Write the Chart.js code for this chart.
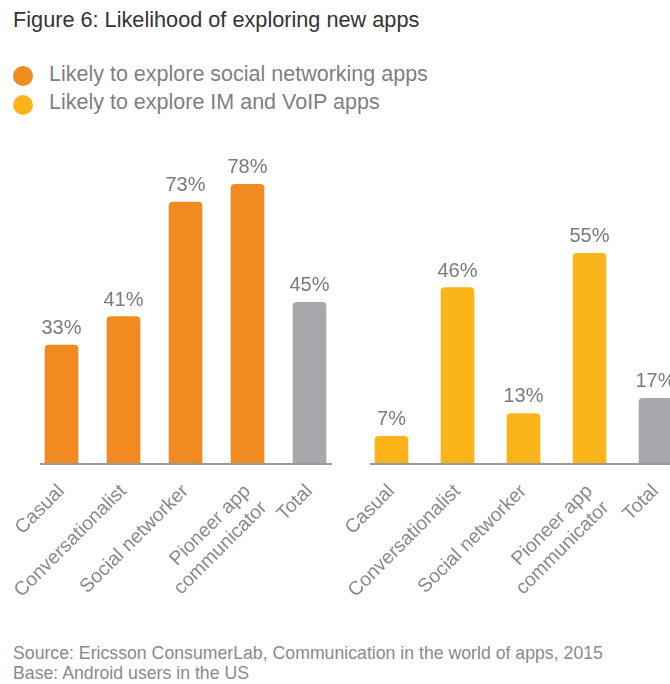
<!DOCTYPE html>
<html>
<head>
<meta charset="utf-8">
<script src="https://cdn.jsdelivr.net/npm/chart.js@4.4.1/dist/chart.umd.min.js"></script>
<style>
  html, body { margin: 0; padding: 0; background: #fff; }
  body { width: 670px; height: 684px; position: relative; overflow: hidden; font-family: "Liberation Sans", Arial, sans-serif; }
  .txt { position: absolute; white-space: nowrap; }
  #title { left: 13px; top: 8.6px; font-size: 21.7px; line-height: 21.7px; color: #333; }
  .legend { left: 49px; font-size: 21.5px; line-height: 21.5px; color: #7f7f7f; }
  .dot { position: absolute; width: 20px; height: 20px; border-radius: 50%; left: 13px; }
  .foot { left: 13px; font-size: 17.7px; line-height: 17.7px; color: #8a8a8a; }
  #leftWrap { position: absolute; left: 0; top: 0; width: 370px; height: 603px; }
  #rightWrap { position: absolute; left: 320px; top: 0; width: 385px; height: 603px; }
</style>
</head>
<body>
<div id="title" class="txt">Figure 6: Likelihood of exploring new apps</div>
<div class="dot" style="top:66px;background:#f28a22"></div>
<div class="txt legend" style="top:64px">Likely to explore social networking apps</div>
<div class="dot" style="top:95px;background:#fbb51a"></div>
<div class="txt legend" style="top:92px">Likely to explore IM and VoIP apps</div>

<div id="leftWrap"><canvas id="socialChart"></canvas></div>
<div id="rightWrap"><canvas id="imChart"></canvas></div>

<div class="txt foot" style="top:645px">Source: Ericsson ConsumerLab, Communication in the world of apps, 2015</div>
<div class="txt foot" style="top:665px">Base: Android users in the US</div>

<script>
const groups = ['Casual', 'Conversationalist', 'Social networker', ['Pioneer app', 'communicator'], 'Total'];
const socialApps = [33, 41, 73, 78, 45];
const imVoipApps = [7, 46, 13, 55, 17];

const ORANGE = '#f28a22';
const YELLOW = '#fbb51a';
const GREY = '#a7a8ac';
const FONT = '"Liberation Sans", Arial, sans-serif';

// baseline that runs just past the outer bars, plus percent labels on top
const barDecor = {
  id: 'barDecor',
  beforeDatasetsDraw(chart) {
    const ctx = chart.ctx;
    const bars = chart.getDatasetMeta(0).data;
    const first = bars[0], last = bars[bars.length - 1];
    const y = chart.scales.y.getPixelForValue(0) + 1;
    ctx.save();
    ctx.strokeStyle = '#9b9b9b';
    ctx.lineWidth = 2;
    ctx.beginPath();
    ctx.moveTo(first.x - first.width / 2 - 5, y);
    ctx.lineTo(last.x + last.width / 2 + 6, y);
    ctx.stroke();
    ctx.restore();
  },
  afterDatasetsDraw(chart) {
    const ctx = chart.ctx;
    const ds = chart.data.datasets[0];
    ctx.save();
    ctx.font = '20px ' + FONT;
    ctx.fillStyle = '#7b7b7b';
    ctx.textAlign = 'center';
    chart.getDatasetMeta(0).data.forEach((bar, i) => {
      ctx.fillText(ds.data[i] + '%', bar.x, bar.y - 11);
    });
    ctx.restore();
  }
};

function makeChart(id, values, colour, yMax, pad) {
  const colours = values.map((v, i) => i === values.length - 1 ? GREY : colour);
  return new Chart(document.getElementById(id), {
    type: 'bar',
    data: {
      labels: groups,
      datasets: [{
        data: values,
        backgroundColor: colours,
        barThickness: 33,
        borderRadius: { topLeft: 4, topRight: 4, bottomLeft: 0, bottomRight: 0 },
        borderSkipped: false
      }]
    },
    options: {
      responsive: true,
      maintainAspectRatio: false,
      animation: false,
      layout: { padding: { top: 120, bottom: 0, left: pad[0], right: pad[1] } },
      plugins: { legend: { display: false }, tooltip: { enabled: false } },
      scales: {
        x: {
          grid: { display: false },
          border: { display: false },
          ticks: {
            color: '#8a8a8a',
            font: { size: 19.5, family: FONT },
            minRotation: 45,
            maxRotation: 45,
            autoSkip: false,
            padding: 9
          },
          afterFit(scale) { scale.height = 140; }
        },
        y: { display: false, min: 0, max: yMax }
      }
    },
    plugins: [barDecor]
  });
}

makeChart('socialChart', socialApps, ORANGE, 96, [30.5, 29.5]);
makeChart('imChart', imVoipApps, YELLOW, 90, [38.5, 16.5]);
</script>
</body>
</html>
